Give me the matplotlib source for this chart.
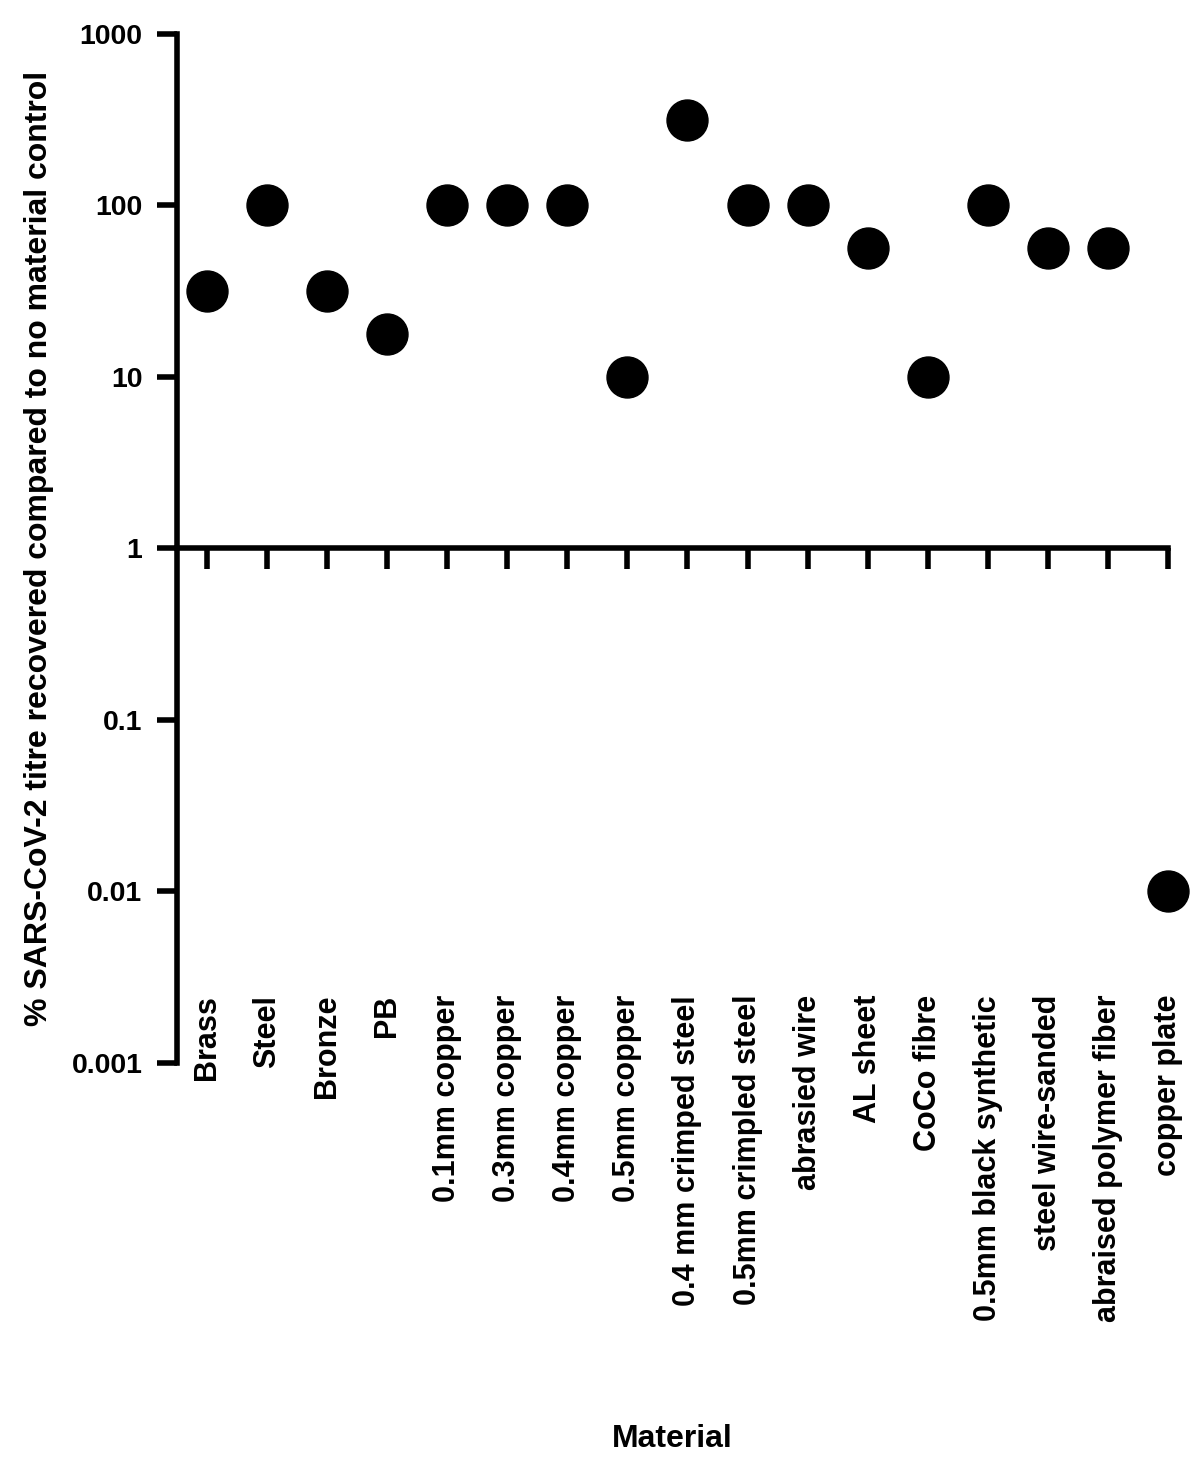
import matplotlib

matplotlib.use("Agg")
import matplotlib.pyplot as plt
from matplotlib.ticker import FixedLocator, NullLocator

# --- Dados ---
materiais = [
    "Brass",
    "Steel",
    "Bronze",
    "PB",
    "0.1mm copper",
    "0.3mm copper",
    "0.4mm copper",
    "0.5mm copper",
    "0.4 mm crimped steel",
    "0.5mm crimpled steel",
    "abrasied wire",
    "AL sheet",
    "CoCo fibre",
    "0.5mm black synthetic",
    "steel wire-sanded",
    "abraised polymer fiber",
    "copper plate",
]
percentual_recuperado = [
    31.6, 100, 31.6, 17.8, 100, 100, 100, 10, 316,
    100, 100, 56.2, 10, 100, 56.2, 56.2, 0.01,
]
ticks_y = [0.001, 0.01, 0.1, 1, 10, 100, 1000]
rotulos_y = ["0.001", "0.01", "0.1", "1", "10", "100", "1000"]

plt.rcParams["font.family"] = ["Liberation Sans", "DejaVu Sans"]
plt.rcParams["font.weight"] = "bold"

fig = plt.figure(figsize=(12, 14.77), dpi=100)
ax = fig.add_axes([0.1475, 0.2803, 0.9733 - 0.1475, 0.97698 - 0.2803])

x = list(range(len(materiais)))
ax.plot(
    x,
    percentual_recuperado,
    linestyle="none",
    marker="o",
    markersize=29.5,
    color="black",
    clip_on=False,
    zorder=5,
)

# Eixo Y logarítmico
ax.set_yscale("log")
ax.set_ylim(0.001, 1000)
ax.yaxis.set_major_locator(FixedLocator(ticks_y))
ax.yaxis.set_minor_locator(NullLocator())
ax.set_yticklabels(rotulos_y, fontsize=20.5, fontweight="bold")
ax.tick_params(axis="y", direction="out", length=14.4, width=4, pad=10.5)

# Eixo X cruzando em y = 1 (spine superior deslocada)
ax.set_xlim(-0.5, len(materiais) - 1)
ax.spines["top"].set_position(("data", 1))
ax.spines["bottom"].set_visible(False)
ax.spines["right"].set_visible(False)
ax.spines["top"].set_linewidth(4)
ax.spines["left"].set_linewidth(4)

ax.set_xticks(x)
ax.set_xticklabels(materiais, rotation=90, fontsize=22, fontweight="bold")
ax.tick_params(
    axis="x",
    top=True,
    bottom=True,
    labeltop=False,
    labelbottom=True,
    direction="in",
    length=15,
    width=4,
    pad=-49,
)
for t in ax.xaxis.get_major_ticks():
    t.tick1line.set_visible(False)

ax.set_ylabel(
    "% SARS-CoV-2 titre recovered compared to no material control",
    fontsize=23,
    fontweight="bold",
)
ax.yaxis.set_label_coords(-0.124, 0.5)
ax.set_xlabel("Material", fontsize=23, fontweight="bold")
ax.xaxis.set_label_coords(0.5, -0.351)

fig.savefig("out.png", dpi=100)
